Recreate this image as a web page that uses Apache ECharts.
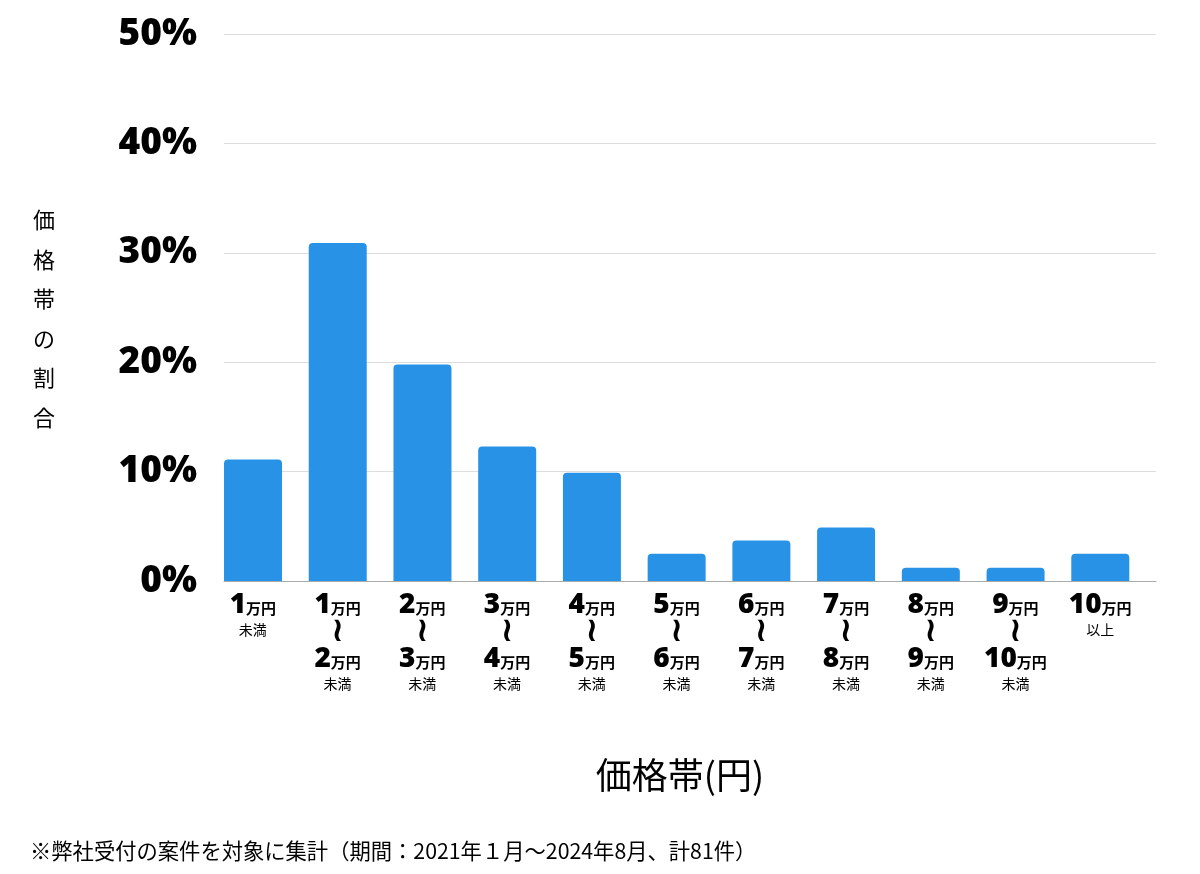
<!DOCTYPE html>
<html><head><meta charset="utf-8">
<script src="https://cdn.jsdelivr.net/npm/echarts@6/dist/echarts.min.js"></script>
<style>html,body{margin:0;padding:0;background:#fff}#c{width:1200px;height:874px}</style>
</head><body><div id="c"></div>
<script>
const categories = ['1万円未満','1万円〜2万円未満','2万円〜3万円未満','3万円〜4万円未満','4万円〜5万円未満','5万円〜6万円未満','6万円〜7万円未満','7万円〜8万円未満','8万円〜9万円未満','9万円〜10万円未満','10万円以上'];
const rangeFrom = [null,'1','2','3','4','5','6','7','8','9','10'];
const rangeTo = ['1','2','3','4','5','6','7','8','9','10',null];
const values = [11.1, 30.9, 19.8, 12.3, 9.9, 2.5, 3.7, 4.9, 1.2, 1.2, 2.5];
const yTicks = [0, 10, 20, 30, 40, 50];

const JP = '"Noto Sans CJK JP", "Noto Sans", sans-serif';
const chart = echarts.init(document.getElementById('c'));

function labelFor(i) {
  const f = rangeFrom[i], t = rangeTo[i];
  if (f === null) return '{n|' + t + '}{u|万円}\n{s|未満}';
  if (t === null) return '{n|' + f + '}{u|万円}\n{s|以上}';
  return '{n|' + f + '}{u|万円}\n{w|≀}\n{n|' + t + '}{u|万円}\n{s|未満}';
}

chart.setOption({
  animation: false,
  grid: { left: 224, right: 44, top: 34, bottom: 293 },
  xAxis: {
    type: 'category',
    data: categories,
    axisLine: { lineStyle: { color: '#aaaaaa', width: 1 } },
    axisTick: { show: false },
    axisLabel: {
      interval: 0,
      margin: 11,
      padding: [0, 27, 0, 0],
      formatter: (v, i) => labelFor(i),
      rich: {
        n: { fontFamily: '"Noto Sans", sans-serif', fontWeight: 900, fontSize: 28, color: '#000', lineHeight: 27 },
        u: { fontFamily: JP, fontWeight: 'bold', fontSize: 15, color: '#000', lineHeight: 27, padding: [5, 0, 0, 0] },
        w: { fontFamily: 'DejaVu Sans', fontWeight: 'bold', fontSize: 34, color: '#000', lineHeight: 27 },
        s: { fontFamily: JP, fontSize: 14, color: '#000', lineHeight: 22 }
      }
    }
  },
  yAxis: {
    type: 'value',
    min: yTicks[0],
    max: yTicks[yTicks.length - 1],
    interval: 10,
    axisLine: { show: false },
    axisTick: { show: false },
    splitLine: { lineStyle: { color: '#dddddd', width: 1 } },
    axisLabel: {
      margin: 27,
      formatter: v => v + '%',
      fontFamily: '"Noto Sans", sans-serif',
      fontWeight: 900,
      fontSize: 37,
      color: '#000'
    }
  },
  series: [
    {
      type: 'bar',
      data: values,
      barWidth: 58,
      barGap: '0%',
      itemStyle: { color: '#2893e6', borderRadius: [4, 4, 0, 0] }
    },
    {
      type: 'bar',
      data: values.map(() => null),
      barWidth: 26.7,
      itemStyle: { color: 'transparent' },
      silent: true
    }
  ],
  graphic: [
    {
      type: 'text', left: 33, top: 200,
      style: { text: '価\n格\n帯\nの\n割\n合', font: '22px ' + JP, fill: '#000', lineHeight: 39.5, align: 'left' }
    },
    {
      type: 'text', x: 680, y: 775,
      style: { text: '価格帯(円)', font: '36px ' + JP, fill: '#000', align: 'center', verticalAlign: 'middle' }
    },
    {
      type: 'text', x: 30, y: 851,
      style: { text: '※弊社受付の案件を対象に集計（期間：2021年１月〜2024年8月、計81件）', font: '21.3px ' + JP, fill: '#000', verticalAlign: 'middle' }
    }
  ]
});
</script></body></html>
